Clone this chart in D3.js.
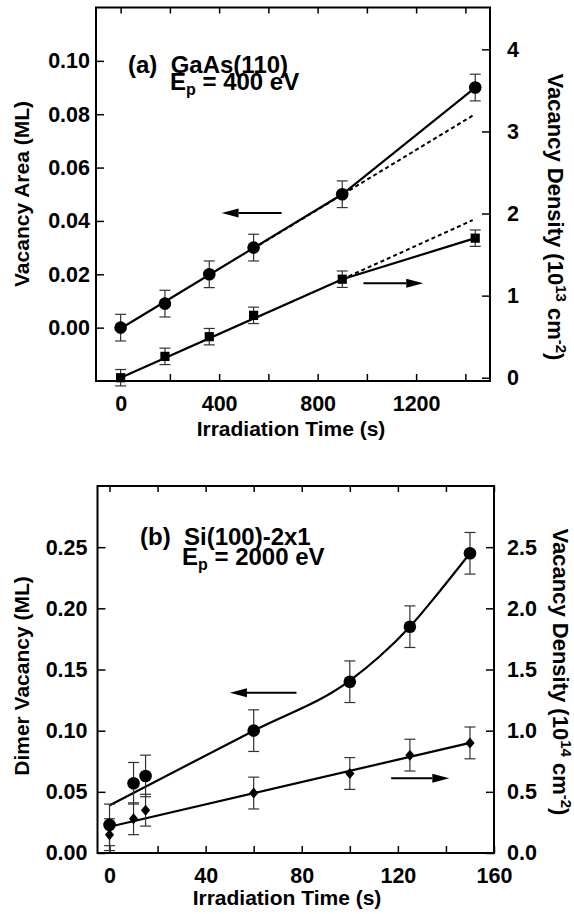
<!DOCTYPE html>
<html>
<head>
<meta charset="utf-8">
<script src="https://cdn.jsdelivr.net/npm/d3@7"></script>
<style>
body { margin: 0; background: #fff; }
svg text { font-family: "Liberation Sans", Arial, Helvetica, sans-serif; font-weight: bold; fill: #000; white-space: pre; }
</style>
</head>
<body>
<svg id="fig" width="574" height="914"></svg>
<script>
// ---- panel (a) GaAs(110), 400 eV ----
var timeA = [0, 180, 360, 540, 900, 1440];
var areaA = [0.000, 0.009, 0.020, 0.030, 0.050, 0.090];   // left axis (ML)
var areaErrA = 0.005;
var densA = [0.00, 0.26, 0.50, 0.76, 1.20, 1.70];         // right axis (1e13 cm-2)
var densErrA = 0.10;
var fitAreaA = [[0, -0.0003], [900, 0.050], [1440, 0.090]];
var fitAreaDashA = [[540, 0.0297], [1430, 0.0795]];
var fitDensA = [[0, 0.00], [900, 1.20], [1440, 1.70]];
var fitDensDashA = [[900, 1.20], [1430, 1.92]];
var xTicksA = [0, 200, 400, 600, 800, 1000, 1200, 1400];
var yLTicksA = [0, 0.02, 0.04, 0.06, 0.08, 0.10];
var yRTicksA = [0, 1, 2, 3, 4];

// ---- panel (b) Si(100)-2x1, 2000 eV ----
var timeB = [0, 10, 15, 60, 100, 125, 150];
var dimerB = [0.023, 0.057, 0.063, 0.100, 0.140, 0.185, 0.245];  // left axis (ML)
var dimerErrB = 0.017;
var densB = [0.15, 0.28, 0.35, 0.49, 0.65, 0.80, 0.90];          // right axis (1e14 cm-2)
var densErrB = 0.13;
var fitDimerB = [[0, 0.039], [60, 0.100], [100, 0.141], [112, 0.160], [125, 0.185], [137, 0.213], [150, 0.245]];
var fitDensB = [[0, 0.215], [150, 0.90]];
var xTicksB = [0, 20, 40, 60, 80, 100, 120, 140, 160];
var yLTicksB = [0, 0.05, 0.10, 0.15, 0.20, 0.25];
var yRTicksB = [0, 0.5, 1.0, 1.5, 2.0, 2.5];

var svg = d3.select("#fig");

function styleAxis(sel, fs) {
    sel.select(".domain").remove();
    sel.selectAll(".tick line").attr("stroke", "#000").attr("stroke-width", 1.5);
    sel.selectAll(".tick text").attr("font-size", fs).attr("fill", "#000");
}

function arrow(g, x1, y1, x2, y2) {
    // tail (x1,y1) -> head (x2,y2), horizontal
    var dir = x2 > x1 ? 1 : -1, hl = 17, hw = 4.5;
    g.append("line").attr("x1", x1).attr("y1", y1).attr("x2", x2 - dir * hl).attr("y2", y2)
        .attr("stroke", "#000").attr("stroke-width", 2);
    g.append("path")
        .attr("d", "M" + x2 + "," + y2 + "L" + (x2 - dir * hl) + "," + (y2 - hw) + "L" + (x2 - dir * hl) + "," + (y2 + hw) + "Z")
        .attr("fill", "#000");
}

function drawPanel(p) {
    var g = svg.append("g");
    var x = d3.scaleLinear().domain(p.xDomain).range(p.xRange);
    var yL = d3.scaleLinear().domain(p.yLDomain).range(p.yRange);
    var yR = d3.scaleLinear().domain(p.yRDomain).range(p.yRange);
    var x0 = p.xRange[0], x1 = p.xRange[1], yb = p.yRange[0], yt = p.yRange[1];

    g.append("g").attr("transform", "translate(0," + yb + ")")
        .call(d3.axisBottom(x).tickValues(p.xTicks)
            .tickFormat(function (d) { return d % p.xLabelEvery === 0 ? d : ""; })
            .tickSize(-7).tickPadding(15))
        .call(styleAxis, 21.5);
    g.append("g").attr("transform", "translate(0," + yt + ")")
        .call(d3.axisTop(x).tickValues(p.xTicks).tickFormat("").tickSize(-6))
        .call(styleAxis, 21.5);
    g.append("g").attr("transform", "translate(" + x0 + ",0)")
        .call(d3.axisLeft(yL).tickValues(p.yLTicks).tickFormat(d3.format(".2f"))
            .tickSize(-8).tickPadding(p.leftPad))
        .call(styleAxis, 21.5);
    g.append("g").attr("transform", "translate(" + x1 + ",0)")
        .call(d3.axisRight(yR).tickValues(p.yRTicks).tickFormat(d3.format(p.yRFormat))
            .tickSize(-8).tickPadding(p.rightPad))
        .call(styleAxis, 21.5);

    g.append("rect").attr("x", x0).attr("y", yt).attr("width", x1 - x0).attr("height", yb - yt)
        .attr("fill", "none").attr("stroke", "#000").attr("stroke-width", 2);

    var lineL = d3.line().x(d => x(d[0])).y(d => yL(d[1])).curve(p.curveL || d3.curveLinear);
    var lineR = d3.line().x(d => x(d[0])).y(d => yR(d[1]));

    p.solidL.forEach(f => g.append("path").attr("d", lineL(f)).attr("fill", "none").attr("stroke", "#000").attr("stroke-width", 2.2));
    p.solidR.forEach(f => g.append("path").attr("d", lineR(f)).attr("fill", "none").attr("stroke", "#000").attr("stroke-width", 2.2));
    p.dashL.forEach(f => g.append("path").attr("d", lineL(f)).attr("fill", "none").attr("stroke", "#000").attr("stroke-width", 2).attr("stroke-dasharray", "4,3"));
    p.dashR.forEach(f => g.append("path").attr("d", lineR(f)).attr("fill", "none").attr("stroke", "#000").attr("stroke-width", 2).attr("stroke-dasharray", "4,3"));

    // error bars
    function errBars(vals, err, ys, cw) {
        vals.forEach(function (v, i) {
            var cx = x(p.time[i]), ya = ys(v + err), yb2 = ys(v - err);
            var e = g.append("g").attr("stroke", "#333").attr("stroke-width", 1.2);
            e.append("line").attr("x1", cx).attr("x2", cx).attr("y1", ya).attr("y2", yb2);
            e.append("line").attr("x1", cx - cw).attr("x2", cx + cw).attr("y1", ya).attr("y2", ya);
            e.append("line").attr("x1", cx - cw).attr("x2", cx + cw).attr("y1", yb2).attr("y2", yb2);
        });
    }
    errBars(p.left, p.leftErr, yL, 5.5);
    errBars(p.right, p.rightErr, yR, 5.5);

    g.selectAll(".mL").data(p.left).enter().append("circle")
        .attr("cx", (d, i) => x(p.time[i])).attr("cy", d => yL(d)).attr("r", 6.3).attr("fill", "#000");
    g.selectAll(".mR").data(p.right).enter().append("path")
        .attr("d", function (d, i) {
            var cx = x(p.time[i]), cy = yR(d);
            if (p.rightMarker === "square") return "M" + (cx - 4.6) + "," + (cy - 4.6) + "h9.2v9.2h-9.2Z";
            return "M" + cx + "," + (cy - 5.5) + "L" + (cx + 4.6) + "," + cy + "L" + cx + "," + (cy + 5.5) + "L" + (cx - 4.6) + "," + cy + "Z";
        })
        .attr("fill", "#000");

    // arrows
    arrow(g, x(p.arrowL[0]), yL(p.arrowL[2]), x(p.arrowL[1]), yL(p.arrowL[2]));
    arrow(g, x(p.arrowR[0]), yR(p.arrowR[2]), x(p.arrowR[1]), yR(p.arrowR[2]));

    // titles
    g.append("text").attr("x", p.xTitle[0]).attr("y", p.xTitle[1]).attr("text-anchor", "middle")
        .attr("font-size", 21).text("Irradiation Time (s)");
    g.append("text").attr("transform", "translate(" + p.yLTitle[0] + "," + p.yLTitle[1] + ") rotate(-90)")
        .attr("text-anchor", "middle").attr("font-size", 21).text(p.yLText);
    var rt = g.append("text").attr("transform", "translate(" + p.yRTitle[0] + "," + p.yRTitle[1] + ") rotate(90)")
        .attr("text-anchor", "middle").attr("font-size", 22);
    rt.append("tspan").text("Vacancy Density (10");
    rt.append("tspan").attr("font-size", 15).attr("dy", -8).text(p.exp);
    rt.append("tspan").attr("dy", 8).text(" cm");
    rt.append("tspan").attr("font-size", 15).attr("dy", -8).text("-2");
    rt.append("tspan").attr("dy", 8).text(")");

    // annotation
    g.append("text").attr("x", p.note1[0]).attr("y", p.note1[1]).attr("font-size", 24).text(p.noteText);
    var n2 = g.append("text").attr("x", p.note2[0]).attr("y", p.note2[1]).attr("font-size", 24);
    n2.append("tspan").text("E");
    n2.append("tspan").attr("font-size", 16).attr("dy", 5).text("p");
    n2.append("tspan").attr("dy", -5).text(" = " + p.energy);
}

drawPanel({
    xDomain: [-100, 1500], xRange: [96, 490],
    yLDomain: [-0.02, 0.12], yRDomain: [-0.04, 4.51], yRange: [381, 7.5],
    xTicks: xTicksA, xLabelEvery: 400, yLTicks: yLTicksA, yRTicks: yRTicksA, yRFormat: "d",
    leftPad: 6, rightPad: 17,
    time: timeA, left: areaA, leftErr: areaErrA, right: densA, rightErr: densErrA, rightMarker: "square",
    solidL: [fitAreaA], solidR: [fitDensA], dashL: [fitAreaDashA], dashR: [fitDensDashA],
    arrowL: [654, 410, 0.043], arrowR: [986, 1229, 1.15],
    xTitle: [291, 436], yLTitle: [29, 194], yRTitle: [548, 217],
    yLText: "Vacancy Area (ML)", exp: "13",
    noteText: "(a)  GaAs(110)", note1: [128, 73], note2: [170, 90], energy: "400 eV"
});

drawPanel({
    xDomain: [-5, 160], xRange: [97.5, 494],
    yLDomain: [0, 0.30], yRDomain: [0, 3.0], yRange: [853, 486],
    xTicks: xTicksB, xLabelEvery: 40, yLTicks: yLTicksB, yRTicks: yRTicksB, yRFormat: ".1f",
    leftPad: 10, rightPad: 13,
    time: timeB, left: dimerB, leftErr: dimerErrB, right: densB, rightErr: densErrB, rightMarker: "diamond",
    solidL: [fitDimerB], solidR: [fitDensB], dashL: [], dashR: [], curveL: d3.curveMonotoneX,
    arrowL: [77.8, 50.1, 0.131], arrowR: [117.2, 141.4, 0.612],
    xTitle: [287, 905], yLTitle: [29, 676], yRTitle: [553, 672],
    yLText: "Dimer Vacancy (ML)", exp: "14",
    noteText: "(b)  Si(100)-2x1", note1: [140, 545], note2: [182, 565], energy: "2000 eV"
});
</script>
</body>
</html>
